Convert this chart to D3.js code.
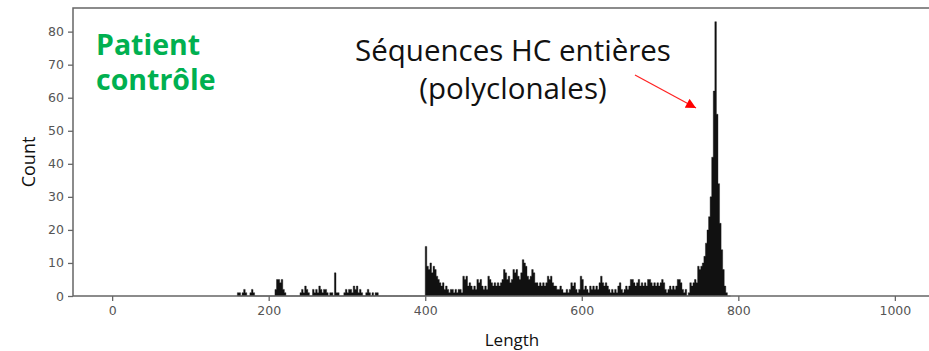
<!DOCTYPE html>
<html>
<head>
<meta charset="utf-8">
<script src="https://cdn.jsdelivr.net/npm/d3@7"></script>
<style>
  body { margin: 0; background: #fff; }
  svg { display: block; }
  .tick text { font-family: "DejaVu Sans", sans-serif; font-size: 12.5px; fill: #555; }
  .tick line { stroke: #666; stroke-width: 1.3; }
  .axisLabel { font-family: "Open Sans", sans-serif; fill: #111; }
</style>
</head>
<body>
<div id="plotSect"></div>
<script>
// histogram of sequence lengths, bins of 2 starting at 160
const binStart = 160;
const binWidth = 2;
const counts = [
    1, 1, 0, 1, 2, 1, 0, 0, 1, 2, 1, 0, 0, 0, 0, 0, 0, 0, 0, 0,      // 160-198
    0, 0, 0, 0, 2, 5, 5, 4, 5, 2, 1, 0, 0, 0, 0, 0, 0, 0, 0, 0,      // 200-238
    1, 2, 1, 3, 2, 1, 0, 0, 2, 1, 2, 1, 3, 2, 1, 2, 2, 1, 0, 1,      // 240-278
    1, 0, 7, 1, 1, 0, 0, 0, 1, 2, 1, 2, 2, 1, 3, 2, 3, 1, 2, 1,      // 280-318
    0, 0, 1, 2, 1, 0, 1, 0, 1, 1, 0, 0, 0, 0, 0, 0, 0, 0, 0, 0,      // 320-358
    0, 0, 0, 0, 0, 0, 0, 0, 0, 0, 0, 0, 0, 0, 0, 0, 0, 0, 0, 0,      // 360-398
    15, 9, 8, 10, 7, 9, 8, 6, 5, 4, 3, 4, 2, 3, 2, 1, 2, 2, 1, 2,    // 400-438
    1, 2, 2, 1, 6, 5, 6, 3, 4, 3, 2, 3, 2, 5, 4, 5, 3, 2, 3, 2,      // 440-478
    6, 5, 4, 3, 4, 3, 4, 3, 4, 5, 8, 7, 5, 6, 4, 5, 8, 7, 8, 6,      // 480-518
    5, 7, 11, 10, 9, 6, 5, 6, 8, 7, 4, 4, 3, 4, 3, 4, 3, 4, 6, 5,    // 520-558
    6, 4, 3, 3, 2, 2, 3, 2, 1, 1, 2, 1, 2, 4, 3, 4, 2, 1, 2, 6,      // 560-598
    5, 2, 3, 2, 1, 3, 2, 3, 2, 3, 2, 4, 6, 4, 3, 4, 3, 2, 1, 2,      // 600-638
    1, 2, 1, 3, 4, 2, 1, 2, 3, 2, 3, 5, 5, 4, 3, 4, 5, 3, 4, 3,      // 640-678
    4, 3, 5, 5, 4, 3, 4, 3, 4, 3, 4, 5, 4, 2, 1, 2, 3, 2, 3, 2,      // 680-718
    3, 5, 5, 4, 2, 1, 2, 0, 1, 4, 3, 4, 5, 4, 9, 8, 9, 10, 12, 16,   // 720-758
    20, 24, 30, 42, 62, 83, 55, 34, 22, 14, 8, 3, 1, 0, 0            // 760-788
];
const xTicks = [0, 200, 400, 600, 800, 1000];
const yTicks = [0, 10, 20, 30, 40, 50, 60, 70, 80];
const titleLines = ["Patient", "contrôle"];
const noteLines = ["Séquences HC entières", "(polyclonales)"];

let SVGwidth = 929,
    SVGheight = 351,
    margin = {top: 8, right: -5, bottom: 55, left: 73},
    width = SVGwidth - margin.left - margin.right,
    height = SVGheight - margin.top - margin.bottom;

let svg = d3.select("#plotSect").append("svg")
    .attr("width", SVGwidth)
    .attr("height", SVGheight);

let g = svg.append("g")
    .attr("transform", "translate(" + margin.left + "," + margin.top + ")");

let bins = counts.map(function(c, i) { return {x0: binStart + i * binWidth, n: c}; });
// closing point so the last bin gets its width
bins.push({x0: binStart + counts.length * binWidth, n: 0});

let xScale = d3.scaleLinear().domain([-50, 1050]).range([0, width]);
let yScale = d3.scaleLinear().domain([0, d3.max(counts) * 1.05]).range([height, 0]);

// histogram drawn as one stepped area so neighbouring bins have no seams
let histArea = d3.area()
    .x(function(d) { return xScale(d.x0); })
    .y0(yScale(0))
    .y1(function(d) { return yScale(d.n); })
    .curve(d3.curveStepAfter);

g.append("path")
    .datum(bins)
    .attr("class", "hist")
    .attr("d", histArea)
    .style("fill", "#111")
    .style("stroke", "#111")
    .style("stroke-width", 0.4);

// axes
let xAxis = d3.axisBottom(xScale).tickValues(xTicks).tickFormat(d3.format("d"))
    .tickSize(5).tickPadding(5).tickSizeOuter(0);
let yAxis = d3.axisLeft(yScale).tickValues(yTicks).tickFormat(d3.format("d"))
    .tickSize(5).tickPadding(4).tickSizeOuter(0);

g.append("g")
    .attr("class", "xAxis")
    .attr("transform", "translate(0," + height + ")")
    .call(xAxis)
    .call(function(s) { s.select(".domain").remove(); });

g.append("g")
    .attr("class", "yAxis")
    .call(yAxis)
    .call(function(s) { s.select(".domain").remove(); });

// frame (right side falls outside the picture)
g.append("path")
    .attr("d", "M" + width + ",0H0V" + height + "H" + width)
    .style("fill", "none")
    .style("stroke", "#666")
    .style("stroke-width", 1.5);

svg.append("text")
    .attr("class", "axisLabel")
    .attr("transform", "translate(35,162) rotate(-90)")
    .style("text-anchor", "middle")
    .style("font-size", "18px")
    .text("Count");

svg.append("text")
    .attr("class", "axisLabel")
    .attr("x", 512)
    .attr("y", 346)
    .style("text-anchor", "middle")
    .style("font-size", "17px")
    .text("Length");

// green title, one text per line
svg.selectAll(".title")
    .data(titleLines)
    .enter().append("text")
    .attr("class", "title")
    .attr("x", 96)
    .attr("y", function(d, i) { return 55 + i * 35; })
    .style("font-family", "'Open Sans', sans-serif")
    .style("font-weight", "bold")
    .style("font-size", "28.5px")
    .style("fill", "#00b050")
    .text(function(d) { return d; });

// annotation
svg.selectAll(".note")
    .data(noteLines)
    .enter().append("text")
    .attr("class", "note")
    .attr("x", 513)
    .attr("y", function(d, i) { return 61 + i * 38; })
    .style("font-family", "'Open Sans', sans-serif")
    .style("font-size", "29.5px")
    .style("fill", "#111")
    .style("text-anchor", "middle")
    .text(function(d) { return d; });

svg.append("defs").append("marker")
    .attr("id", "head")
    .attr("viewBox", "0 0 10 10")
    .attr("refX", 10)
    .attr("refY", 5)
    .attr("markerUnits", "userSpaceOnUse")
    .attr("markerWidth", 11)
    .attr("markerHeight", 10)
    .attr("orient", "auto")
    .append("path")
    .attr("d", "M0,0L10,5L0,10Z")
    .style("fill", "#f00");

svg.append("line")
    .attr("x1", 635)
    .attr("y1", 75)
    .attr("x2", 696)
    .attr("y2", 108)
    .style("stroke", "#f22")
    .style("stroke-width", 1.2)
    .attr("marker-end", "url(#head)");
</script>
</body>
</html>
